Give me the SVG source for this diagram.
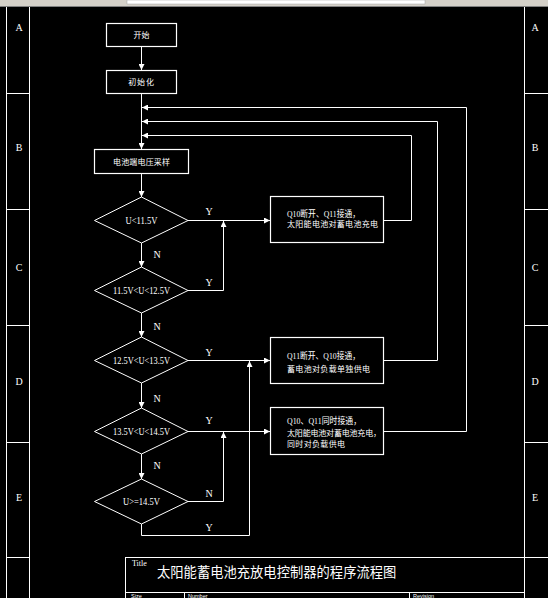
<svg xmlns="http://www.w3.org/2000/svg" width="548" height="598" viewBox="0 0 548 598">
<style>
.ln{stroke:#fff;stroke-width:1;fill:none}
.bx{stroke:#fff;stroke-width:1.2;fill:#000}
.lat{font-family:"Liberation Serif","Noto Sans CJK SC",serif;fill:#fff}
.cjk{font-family:"Noto Sans CJK SC","Liberation Sans",sans-serif;fill:#fff;font-size:8px}
.mix{font-family:"Liberation Serif","Noto Sans CJK SC",serif;fill:#fff;font-size:9px}
.zone{font-family:"Liberation Serif",serif;fill:#fff;font-size:10px;text-anchor:middle}
.lbl{font-family:"Liberation Serif",serif;fill:#fff;font-size:10px;text-anchor:middle}
.dt{font-family:"Liberation Serif",serif;fill:#fff;font-size:9.5px;text-anchor:middle}
.sm{font-family:"Liberation Sans",sans-serif;fill:#fff;font-size:5.5px}
</style>
<defs>
<marker id="ar" viewBox="0 0 6 6" refX="6" refY="3" markerWidth="6" markerHeight="6" markerUnits="userSpaceOnUse" orient="auto">
<path d="M0,0 L6,3 L0,6 z" fill="#fff"/>
</marker>
</defs>
<rect x="0" y="0" width="548" height="598" fill="#000"/>
<g id="toolbar">
<rect x="0" y="0" width="548" height="7" fill="#d4d0c8"/>
<rect x="127" y="0" width="298" height="4" fill="#fff" stroke="#a0a0a0" stroke-width="0.5"/>
<line x1="0" y1="6.5" x2="548" y2="6.5" stroke="#808080" stroke-width="1"/>
</g>
<g id="frame">
<line class="ln" x1="6.5" y1="7" x2="6.5" y2="598"/>
<line class="ln" x1="29.5" y1="7" x2="29.5" y2="598"/>
<line class="ln" x1="524.5" y1="7" x2="524.5" y2="598"/>
<path class="ln" d="M6,93.5H30M6,209.5H30M6,325.5H30M6,442.5H30M6,557.5H30"/>
<path class="ln" d="M524,93.5H548M524,209.5H548M524,325.5H548M524,442.5H548M524,557.5H548"/>
<text class="zone" x="19" y="31">A</text>
<text class="zone" x="19" y="151">B</text>
<text class="zone" x="19" y="271">C</text>
<text class="zone" x="19" y="385">D</text>
<text class="zone" x="19" y="501">E</text>
<text class="zone" x="535" y="31">A</text>
<text class="zone" x="535" y="151">B</text>
<text class="zone" x="535" y="271">C</text>
<text class="zone" x="535" y="385">D</text>
<text class="zone" x="535" y="501">E</text>
</g>
<g id="titleblock">
<rect class="ln" x="125.5" y="557.5" width="399" height="50"/>
<line class="ln" x1="125" y1="592.5" x2="524" y2="592.5"/>
<line class="ln" x1="184.5" y1="592" x2="184.5" y2="598"/>
<line class="ln" x1="409.5" y1="592" x2="409.5" y2="598"/>
<text x="132" y="566" font-family="Liberation Serif,serif" font-size="8" fill="#fff">Title</text>
<text x="157" y="577" font-family="Noto Sans CJK SC,sans-serif" font-size="13.3" fill="#fff">太阳能蓄电池充放电控制器的程序流程图</text>
<text class="sm" x="131" y="597.5">Size</text>
<text class="sm" x="188" y="597.5">Number</text>
<text class="sm" x="413" y="597.5">Revision</text>
</g>
<g id="connectors">
<path class="ln" marker-end="url(#ar)" d="M141.5,46 V70"/>
<path class="ln" marker-end="url(#ar)" d="M141.5,93 V149"/>
<path class="ln" marker-end="url(#ar)" d="M141.5,173 V197"/>
<path class="ln" marker-end="url(#ar)" d="M141.5,243 V267"/>
<path class="ln" marker-end="url(#ar)" d="M141.5,313 V337"/>
<path class="ln" marker-end="url(#ar)" d="M141.5,383 V408"/>
<path class="ln" marker-end="url(#ar)" d="M141.5,454 V479"/>
<path class="ln" marker-end="url(#ar)" d="M188,220.5 H270"/>
<path class="ln" marker-end="url(#ar)" d="M188,290.5 H223.5 V221"/>
<path class="ln" marker-end="url(#ar)" d="M188,360.5 H270"/>
<path class="ln" marker-end="url(#ar)" d="M188,431.5 H270"/>
<path class="ln" marker-end="url(#ar)" d="M188,501.5 H223.5 V432"/>
<path class="ln" marker-end="url(#ar)" d="M141.5,524 V535.5 H249.5 V361"/>
<path class="ln" marker-end="url(#ar)" d="M384,220.5 H411.5 V135.5 H142"/>
<path class="ln" marker-end="url(#ar)" d="M384,360.5 H437.5 V121.5 H142"/>
<path class="ln" marker-end="url(#ar)" d="M384,431.5 H466.5 V107.5 H142"/>
<text class="lbl" x="209" y="215">Y</text>
<text class="lbl" x="209" y="286">Y</text>
<text class="lbl" x="209" y="356">Y</text>
<text class="lbl" x="209" y="424">Y</text>
<text class="lbl" x="209" y="497">N</text>
<text class="lbl" x="209" y="531">Y</text>
<text class="lbl" x="157" y="258">N</text>
<text class="lbl" x="157" y="330">N</text>
<text class="lbl" x="157" y="402">N</text>
<text class="lbl" x="157" y="469">N</text>
</g>
<g id="start">
<rect class="bx" x="106.5" y="23.5" width="70" height="23"/>
<text class="cjk" x="141.5" y="38" text-anchor="middle">开始</text>
</g>
<g id="init">
<rect class="bx" x="106.5" y="70.5" width="70" height="23"/>
<text class="cjk" x="141.5" y="85" text-anchor="middle" letter-spacing="0.8">初始化</text>
</g>
<g id="sample">
<rect class="bx" x="94.5" y="149.5" width="94" height="24"/>
<text class="cjk" x="141.5" y="164.5" text-anchor="middle" textLength="57" lengthAdjust="spacing">电池端电压采样</text>
</g>
<g id="d1">
<polygon class="ln" points="141.5,197 188,220.5 141.5,243 94.5,220.5"/>
<text class="dt" x="141.5" y="224" textLength="32" lengthAdjust="spacingAndGlyphs">U&lt;11.5V</text>
</g>
<g id="d2">
<polygon class="ln" points="141.5,267 188,290.5 141.5,313 94.5,290.5"/>
<text class="dt" x="141.5" y="294" textLength="57" lengthAdjust="spacingAndGlyphs">11.5V&lt;U&lt;12.5V</text>
</g>
<g id="d3">
<polygon class="ln" points="141.5,337 188,360.5 141.5,383 94.5,360.5"/>
<text class="dt" x="141.5" y="364" textLength="57" lengthAdjust="spacingAndGlyphs">12.5V&lt;U&lt;13.5V</text>
</g>
<g id="d4">
<polygon class="ln" points="141.5,408 188,431.5 141.5,454 94.5,431.5"/>
<text class="dt" x="141.5" y="435" textLength="57" lengthAdjust="spacingAndGlyphs">13.5V&lt;U&lt;14.5V</text>
</g>
<g id="d5">
<polygon class="ln" points="141.5,479 188,501.5 141.5,524 94.5,501.5"/>
<text class="dt" x="141.5" y="505" textLength="37" lengthAdjust="spacingAndGlyphs">U&gt;=14.5V</text>
</g>
<g id="box1">
<rect class="bx" x="270.5" y="196.5" width="113" height="46"/>
<text class="mix" x="287" y="216.5" textLength="73" lengthAdjust="spacingAndGlyphs">Q10断开、Q11接通，</text>
<text class="cjk" x="287" y="226.5" textLength="91" lengthAdjust="spacing">太阳能电池对蓄电池充电</text>
</g>
<g id="box2">
<rect class="bx" x="270.5" y="337.5" width="113" height="46"/>
<text class="mix" x="287" y="358.5" textLength="73" lengthAdjust="spacingAndGlyphs">Q11断开、Q10接通，</text>
<text class="cjk" x="287" y="371.5" textLength="83" lengthAdjust="spacing">蓄电池对负载单独供电</text>
</g>
<g id="box3">
<rect class="bx" x="270.5" y="407.5" width="113" height="47"/>
<text class="mix" x="287" y="423.5" textLength="74" lengthAdjust="spacingAndGlyphs">Q10、Q11同时接通，</text>
<text class="cjk" x="287" y="435.5" textLength="94" lengthAdjust="spacing">太阳能电池对蓄电池充电，</text>
<text class="cjk" x="287" y="446.5" textLength="58" lengthAdjust="spacing">同时对负载供电</text>
</g>
</svg>
